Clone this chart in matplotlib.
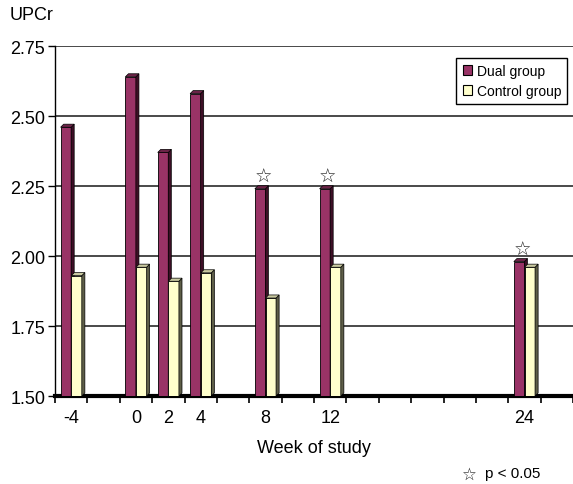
# UPCr by week of study, dual vs control group (pseudo-3D columns)

import matplotlib
matplotlib.use("Agg")
import matplotlib.pyplot as plt
from matplotlib.patches import Patch, Polygon

plt.rcParams["font.family"] = ["Liberation Sans", "DejaVu Sans"]

weeks = [-4, 0, 2, 4, 8, 12, 24]
dual = [2.46, 2.64, 2.37, 2.58, 2.24, 2.24, 1.98]
control = [1.93, 1.96, 1.91, 1.94, 1.85, 1.96, 1.96]
significant = [8, 12, 24]
category_edges = list(range(-5, 28, 2))

DUAL_FACE, DUAL_SIDE, DUAL_TOP = "#993366", "#3d0f26", "#6b2347"
CTRL_FACE, CTRL_SIDE, CTRL_TOP = "#ffffcc", "#5e5e48", "#c9c9a0"
BASE = 1.5
W = 0.65          # bar width (weeks)
DX, DY = 0.19, 0.011  # depth offset


def draw_bars(ax, xs, vals, face, side, top):
    ax.bar(xs, [v - BASE for v in vals], width=W, bottom=BASE,
           color=face, edgecolor="black", linewidth=0.6, zorder=3)
    for x, v in zip(xs, vals):
        x0, x1 = x - W / 2, x + W / 2
        ax.add_patch(Polygon([(x1, BASE), (x1 + DX, BASE + DY),
                              (x1 + DX, v + DY), (x1, v)],
                             closed=True, facecolor=side, edgecolor="black",
                             linewidth=0.5, zorder=3))
        ax.add_patch(Polygon([(x0, v), (x0 + DX, v + DY),
                              (x1 + DX, v + DY), (x1, v)],
                             closed=True, facecolor=top, edgecolor="black",
                             linewidth=0.5, zorder=3))


def main() -> None:
    fig = plt.figure(figsize=(5.73, 4.85), dpi=100)
    ax = fig.add_axes([0.096, 0.1814, 0.904, 0.7216])

    draw_bars(ax, [w - 0.33 for w in weeks], dual, DUAL_FACE, DUAL_SIDE, DUAL_TOP)
    draw_bars(ax, [w + 0.33 for w in weeks], control, CTRL_FACE, CTRL_SIDE, CTRL_TOP)

    # significance stars above the dual bars
    for w, v in zip(weeks, dual):
        if w in significant:
            ax.text(w - 0.33 + DX, v + 0.045, "\u2606", ha="center", va="center",
                    fontsize=14, family=["DejaVu Sans"], color="#222222", zorder=4)

    ax.set_xlim(-5, 27)
    ax.set_ylim(1.5, 2.75)
    ax.set_yticks([1.5, 1.75, 2.0, 2.25, 2.5, 2.75])
    ax.set_yticklabels(["1.50", "1.75", "2.00", "2.25", "2.50", "2.75"])
    ax.set_xticks(weeks)
    ax.set_xticklabels([str(w) for w in weeks])
    ax.set_xticks(category_edges, minor=True)
    ax.tick_params(axis="x", which="major", length=0, pad=9, labelsize=13)
    ax.tick_params(axis="x", which="minor", length=5, width=1.2, direction="out")
    ax.tick_params(axis="y", length=5, width=1, direction="out", pad=2, labelsize=13)

    ax.yaxis.grid(True, color="#3a3a3a", linewidth=1.3, zorder=0)
    ax.set_axisbelow(True)
    ax.spines["right"].set_visible(False)
    ax.spines["top"].set_visible(False)
    ax.spines["left"].set_linewidth(1.0)
    ax.spines["bottom"].set_linewidth(3.0)

    ax.set_xlabel("Week of study", fontsize=13, labelpad=10)
    fig.text(0.017, 0.968, "UPCr", fontsize=13, ha="left", va="center")
    fig.text(0.806, 0.022, "\u2606", fontsize=12, ha="left", va="center",
             family=["DejaVu Sans"], color="#222222")
    fig.text(0.846, 0.022, "p < 0.05", fontsize=11, ha="left", va="center")

    handles = [Patch(facecolor=DUAL_FACE, edgecolor="black", linewidth=0.8),
               Patch(facecolor=CTRL_FACE, edgecolor="black", linewidth=0.8)]
    leg = fig.legend(handles, ["Dual group", "Control group"],
                     loc="upper right", bbox_to_anchor=(0.99, 0.879),
                     fontsize=10, fancybox=False, framealpha=1,
                     edgecolor="black", handlelength=0.7, handleheight=0.7,
                     handletextpad=0.3, borderpad=0.45, labelspacing=0.45,
                     borderaxespad=0)
    leg.get_frame().set_linewidth(1.0)

    fig.savefig("out.png", dpi=100)
    plt.close(fig)


if __name__ == "__main__":
    main()
